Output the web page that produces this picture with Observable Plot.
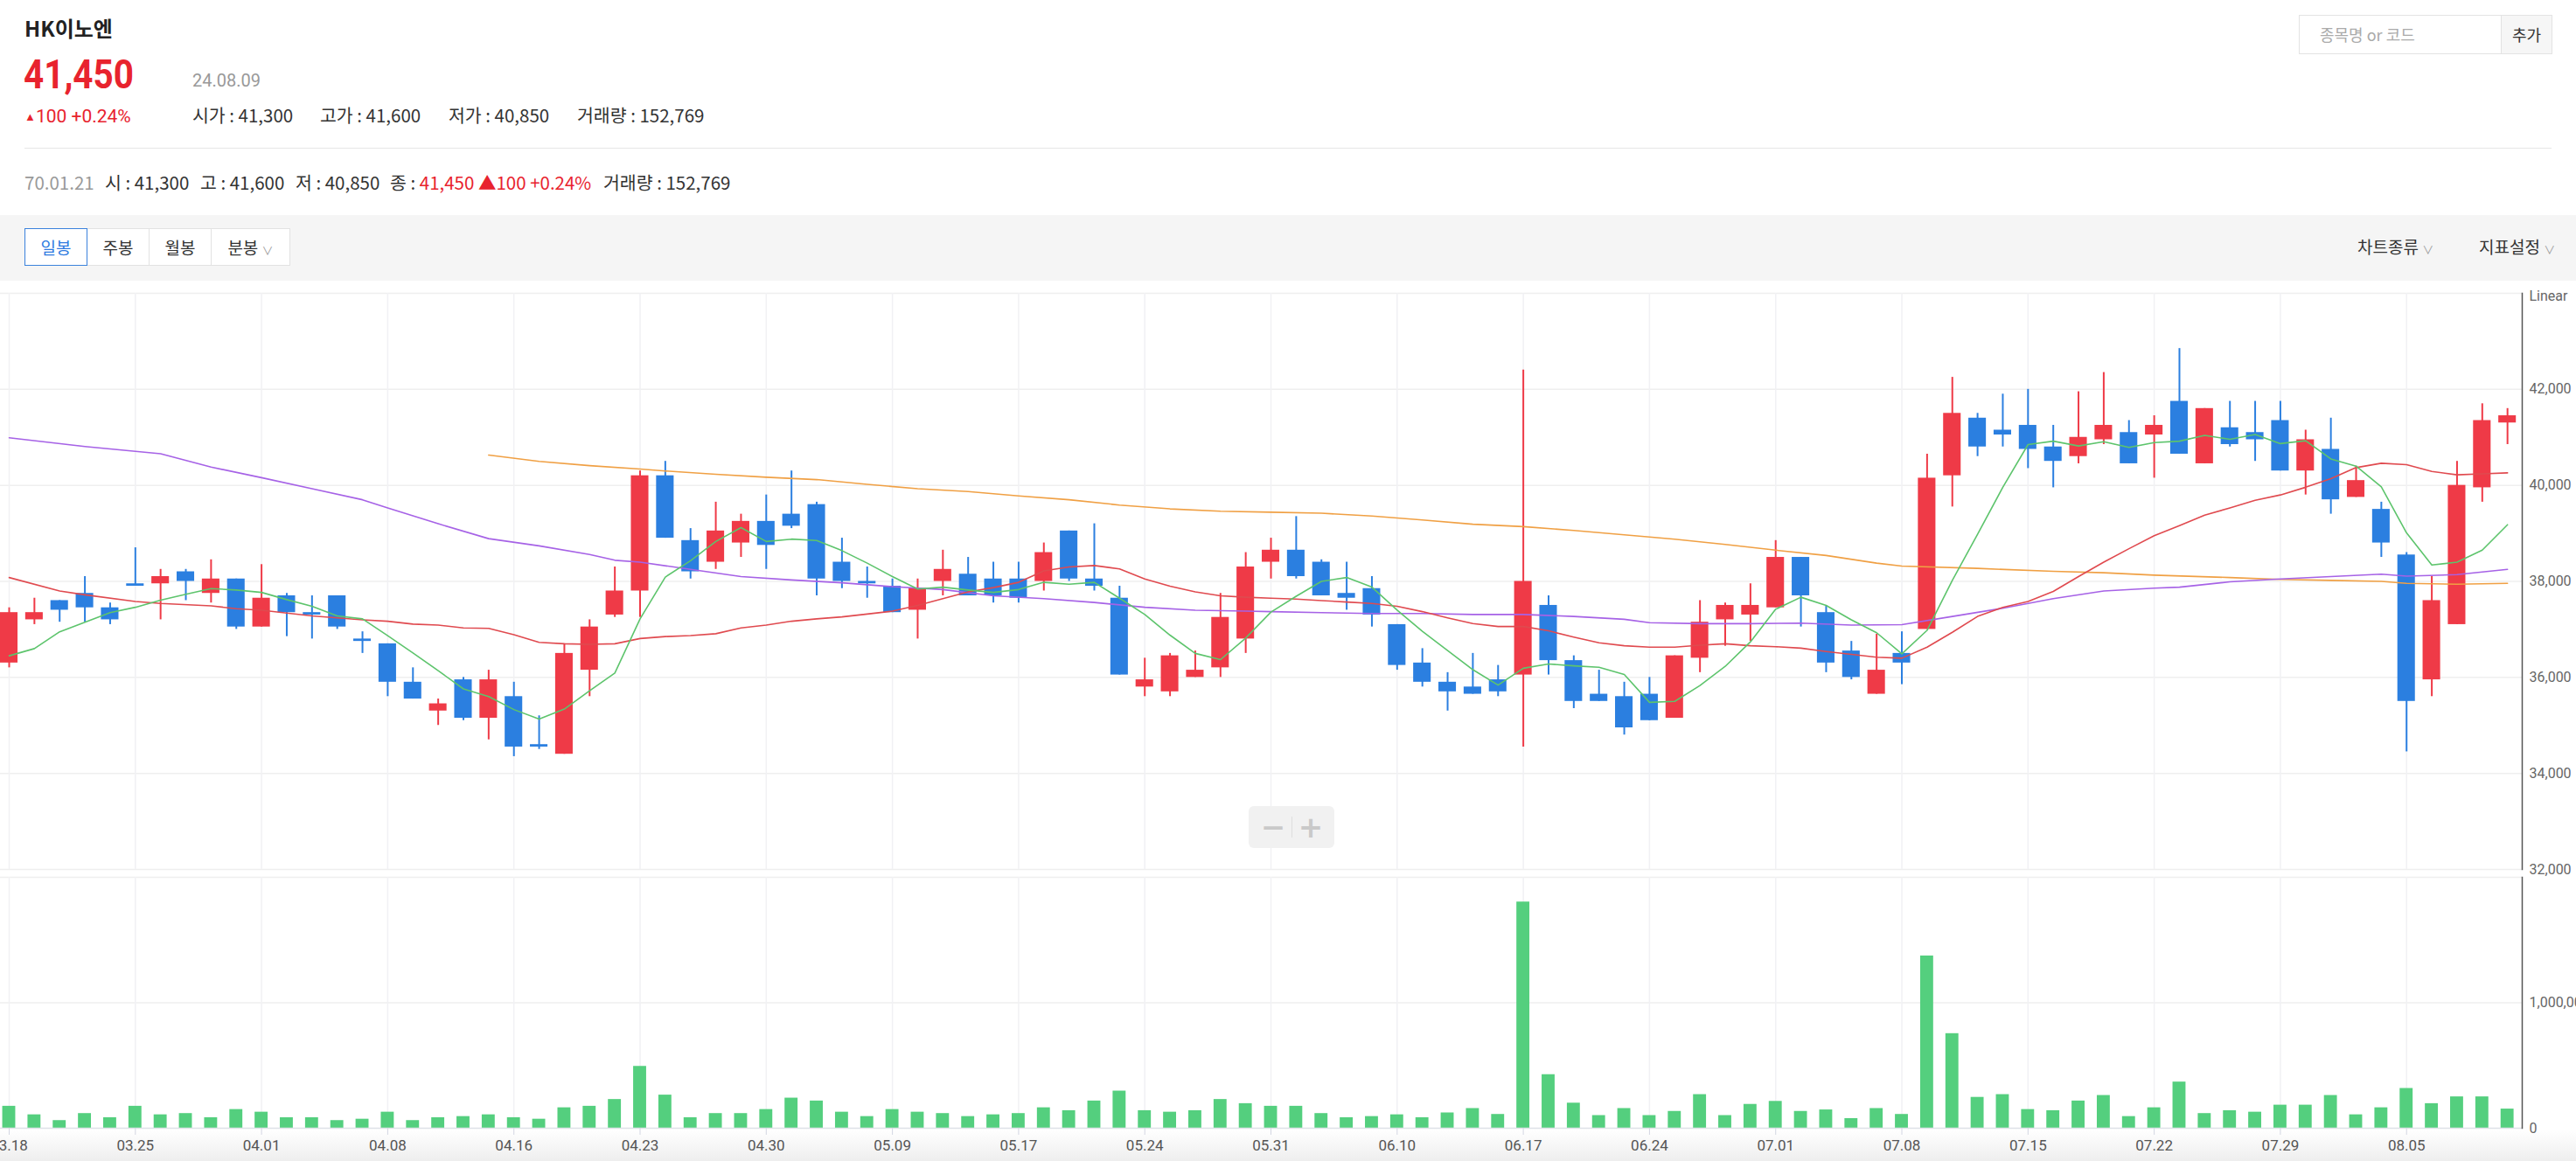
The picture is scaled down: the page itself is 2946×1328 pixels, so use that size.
<!DOCTYPE html>
<html><head><meta charset="utf-8">
<script src="https://cdn.jsdelivr.net/npm/d3@7"></script>
<script src="https://cdn.jsdelivr.net/npm/@observablehq/plot@0.6"></script>
<style>
html,body{margin:0;padding:0}
body{width:2946px;height:1328px;overflow:hidden;background:#fff;position:relative;font-family:"Noto Sans CJK KR","Noto Sans",sans-serif;color:#333}
.a{position:absolute;white-space:nowrap}
.red{color:#e8232e}
.gray{color:#999}
.t{font-size:20.5px;line-height:26px}
.btn{position:absolute;top:261px;height:41px;line-height:41px;text-align:center;background:#fff;border:1px solid #e2e2e2;font-size:19px;color:#333;box-sizing:content-box}
</style></head><body>

<div class="a" style="left:28px;top:17px;font-size:24px;line-height:30px;font-weight:700;color:#222">HK이노엔</div>
<div class="a red" style="left:27px;top:60px;font-size:47px;line-height:50px;font-weight:700;font-family:Roboto,sans-serif;transform:scaleX(0.86);transform-origin:0 0">41,450</div>
<div class="a gray" style="left:220px;top:79px;font-size:20px;line-height:26px;font-family:Roboto">24.08.09</div>
<div class="a red" style="left:28px;top:120px;font-size:21px;line-height:26px;font-family:Roboto"><span style="font-size:13px;vertical-align:2px">▲</span>100 +0.24%</div>
<div class="a t" style="left:220px;top:118px">시가 : 41,300</div>
<div class="a t" style="left:366px;top:118px">고가 : 41,600</div>
<div class="a t" style="left:513px;top:118px">저가 : 40,850</div>
<div class="a t" style="left:660px;top:118px">거래량 : 152,769</div>
<div class="a" style="left:28px;top:169px;width:2890px;height:1px;background:#e6e6e6"></div>

<div class="a t gray" style="left:28px;top:195px">70.01.21</div>
<div class="a t" style="left:120px;top:195px">시 : 41,300</div>
<div class="a t" style="left:229px;top:195px">고 : 41,600</div>
<div class="a t" style="left:338px;top:195px">저 : 40,850</div>
<div class="a t" style="left:446px;top:195px">종 : <span class="red">41,450 ▲100 +0.24%</span></div>
<div class="a t" style="left:690px;top:195px">거래량 : 152,769</div>

<div class="a" style="left:0;top:246px;width:2946px;height:75px;background:#f5f5f5"></div>
<div class="btn" style="left:28px;width:70px;border-color:#3b82dc;color:#2f7be0;z-index:2">일봉</div>
<div class="btn" style="left:99px;width:70px">주봉</div>
<div class="btn" style="left:170px;width:70px">월봉</div>
<div class="btn" style="left:241px;width:89px">분봉 <span style="font-size:13px;color:#999">∨</span></div>
<div class="a" style="left:2696px;top:269px;font-size:19px;line-height:26px">차트종류 <span style="font-size:13px;color:#999">∨</span></div>
<div class="a" style="left:2835px;top:269px;font-size:19px;line-height:26px">지표설정 <span style="font-size:13px;color:#999">∨</span></div>

<div class="a" style="left:2629px;top:17px;width:231px;height:43px;border:1px solid #e3e3e3;background:#fff"></div>
<div class="a" style="left:2653px;top:26px;font-size:18px;line-height:26px;color:#aaa">종목명 or 코드</div>
<div class="a" style="left:2860px;top:17px;width:57px;height:43px;border:1px solid #e3e3e3;background:#f6f6f6;font-size:18px;line-height:43px;text-align:center;color:#333">추가</div>

<div class="a" style="left:0;top:1292px;width:2946px;height:36px;background:linear-gradient(#ffffff,#eeeeee)"></div>

<div id="price" class="a" style="left:0;top:326px"></div>
<div id="vol" class="a" style="left:0;top:1000px"></div>

<div class="a" style="left:1428px;top:922px;width:98px;height:48px;background:#f1f1f1;border-radius:6px"></div>
<div class="a" style="left:1436px;top:922px;width:40px;height:48px;line-height:48px;text-align:center;font-size:34px;font-weight:700;color:#c9c9c9;font-family:'DejaVu Sans'">−</div>
<div class="a" style="left:1477px;top:934px;width:1px;height:24px;background:#dedede"></div>
<div class="a" style="left:1479px;top:922px;width:40px;height:48px;line-height:48px;text-align:center;font-size:34px;font-weight:700;color:#c9c9c9;font-family:'DejaVu Sans'">+</div>

<script>
const dates = ["03.18","03.19","03.20","03.21","03.22","03.25","03.26","03.27","03.28","03.29",
"04.01","04.02","04.03","04.04","04.05","04.08","04.09","04.11","04.12","04.15",
"04.16","04.17","04.18","04.19","04.22","04.23","04.24","04.25","04.26","04.29",
"04.30","05.02","05.03","05.07","05.08","05.09","05.10","05.13","05.14","05.16",
"05.17","05.20","05.21","05.22","05.23","05.24","05.27","05.28","05.29","05.30",
"05.31","06.03","06.04","06.05","06.07","06.10","06.11","06.12","06.13","06.14",
"06.17","06.18","06.19","06.20","06.21","06.24","06.25","06.26","06.27","06.28",
"07.01","07.02","07.03","07.04","07.05","07.08","07.09","07.10","07.11","07.12",
"07.15","07.16","07.17","07.18","07.19","07.22","07.23","07.24","07.25","07.26",
"07.29","07.30","07.31","08.01","08.02","08.05","08.06","08.07","08.08","08.09"];

const open = [36300,37200,37600,37750,37450,37950,37950,38200,37750,38050,
37050,37700,37350,37700,36800,36700,35900,35300,35950,35150,
35600,34600,34400,36150,37300,37800,40200,38850,38400,38800,
39250,39400,39600,38400,38000,37900,37400,38000,38150,38050,
38050,38000,39050,38050,37650,35800,35700,36000,36200,36800,
38400,38650,38400,37750,37850,37100,36300,35900,35800,35950,
36050,37500,36350,35650,35600,35650,35150,36400,37200,37300,
37450,38500,37350,36550,35650,36500,37000,40200,41400,41150,
41250,40800,40600,40950,41100,41050,41750,40450,41200,41100,
41350,40300,40750,39750,39500,38550,35950,37100,39950,41300];

const high = [37450,37650,37600,38100,37550,38700,38250,38250,38450,38050,
38350,37750,37700,37700,36950,36700,36200,35550,36000,36150,
35900,35200,36700,37200,38300,40300,40500,39100,39650,39400,
39800,40300,39650,38900,38300,38050,38050,38650,38500,38400,
38400,38800,39050,39200,37900,36400,36500,36550,37750,38600,
38900,39350,38450,38400,38100,37100,36600,36100,36500,36250,
42400,37700,36450,36150,35900,36000,36450,37600,37550,37950,
38850,38500,37500,36750,36900,36950,40650,42250,41500,41900,
42000,41250,41950,42350,41350,41450,42850,41600,41750,41750,
41750,41150,41400,40400,39650,38600,38100,40500,41700,41600];

const low = [36200,37100,37150,37150,37100,37900,37200,37600,37550,37000,
37050,36850,36800,37000,36500,35600,35550,35000,35100,34700,
34350,34500,34400,35600,37250,37250,38900,38050,38250,38500,
38250,39100,37700,37850,37650,37350,36800,37700,37700,37550,
37550,37800,38000,37800,36050,35600,35600,36000,36000,36500,
38050,38050,37700,37400,37050,36150,35800,35300,35650,35600,
34550,36050,35350,35500,34800,35100,35150,36100,36650,36750,
37450,37050,36100,35950,35650,35850,37000,39550,40600,40800,
40350,39950,40450,40850,40450,40150,40650,40450,40800,40500,
40300,39800,39400,39750,38500,34450,35600,37100,39650,40850];

const close = [37350,37350,37400,37450,37200,37900,38100,38000,38050,37050,
37650,37350,37300,37050,36750,35900,35550,35450,35150,35950,
34550,34550,36500,37050,37800,40200,38900,38200,39050,39250,
38750,39150,38050,38000,37950,37350,37850,38250,37700,37700,
37650,38600,38050,37900,36050,35950,36450,36150,37250,38300,
38650,38100,37700,37650,37300,36250,35900,35700,35650,35700,
38000,36350,35500,35500,34950,35100,36450,37150,37500,37500,
38500,37700,36300,36000,36150,36300,40150,41500,40800,41050,
40750,40500,41000,41250,40450,41250,40650,41600,40850,40950,
40300,40950,39700,40100,38800,35500,37600,40000,41350,41450];

const volume = [175000,107000,61000,117000,84000,175000,107000,117000,84000,149000,
128000,84000,84000,61000,72000,128000,61000,84000,93000,107000,
84000,72000,163000,175000,229000,493000,264000,84000,117000,117000,
149000,240000,217000,128000,93000,149000,128000,117000,93000,107000,
117000,163000,140000,217000,296000,140000,128000,140000,229000,196000,
175000,175000,117000,84000,93000,107000,84000,122000,157000,110000,
1803000,427000,200000,101000,157000,101000,134000,268000,101000,190000,
214000,134000,146000,77000,157000,110000,1373000,754000,246000,268000,
149000,140000,217000,261000,93000,163000,368000,117000,140000,128000,
184000,184000,261000,107000,163000,317000,196000,250000,250000,152769];

// 5-day moving average (green), one value per candle
const ma5 = [36450,36600,36950,37150,37350,37460,37610,37730,37850,37820,
37770,37620,37480,37280,37220,36870,36510,36140,35760,35600,
35330,35130,35340,35720,36090,37220,38090,38430,38830,39120,
38830,38880,38850,38640,38380,38100,37840,37880,37820,37770,
37830,37980,37940,37980,37650,37310,36880,36500,36370,36820,
37360,37690,38000,38080,37880,37400,36960,36560,36160,35840,
36190,36280,36240,36210,36060,35480,35500,35830,36230,36740,
37420,37670,37500,37200,36930,36490,36980,38020,38980,39960,
40850,40920,40820,40910,40790,40890,40920,41040,40960,41060,
40870,40930,40550,40400,39970,39010,38340,38400,38650,39180];

// 20-day moving average (red), read at these candles
const ma20Dates = ["03.18","03.20","03.21","03.25","03.26","03.28","03.29","04.01","04.03","04.05",
"04.08","04.09","04.11","04.12","04.15","04.16","04.17","04.18","04.19","04.22",
"04.23","04.24","04.25","04.26","04.29","04.30","05.02","05.03","05.07","05.08",
"05.09","05.10","05.13","05.14","05.16","05.17","05.20","05.21","05.22","05.23",
"05.24","05.27","05.28","05.29","05.30","05.31","06.03","06.04","06.05","06.07",
"06.10","06.11","06.12","06.13","06.14","06.17","06.18","06.19","06.20","06.21",
"06.24","06.25","06.26","06.27","06.28","07.01","07.02","07.03","07.04","07.05",
"07.08","07.09","07.10","07.11","07.12","07.15","07.16","07.17","07.18","07.19",
"07.22","07.23","07.24","07.25","07.26","07.29","07.30","07.31","08.01","08.02",
"08.05","08.06","08.07","08.08","08.09"];
const ma20 = [38080,37800,37720,37580,37540,37490,37430,37400,37280,37200,
37170,37110,37090,37030,37020,36890,36730,36700,36690,36700,
36810,36850,36870,36910,37030,37090,37170,37220,37260,37320,
37380,37500,37640,37780,37870,37980,38220,38300,38330,38260,
38050,37900,37780,37700,37670,37650,37630,37600,37570,37540,
37480,37370,37240,37120,37060,37060,36970,36840,36720,36660,
36630,36630,36670,36700,36660,36640,36610,36540,36480,36420,
36400,36630,36940,37270,37460,37580,37790,38100,38400,38680,
38950,39160,39380,39530,39690,39800,39960,40140,40370,40460,
40430,40290,40220,40240,40260];

// 60-day moving average (purple)
const ma60Dates = ["03.18","03.21","03.26","03.28","04.01","04.03","04.05","04.08","04.11","04.15",
"04.17","04.19","04.22","04.23","04.25","04.29","05.02","05.07","05.09","05.13",
"05.16","05.20","05.22","05.24","05.28","05.30","05.31","06.04","06.07","06.11",
"06.13","06.17","06.19","06.21","06.24","06.26","06.28","07.02","07.04","07.08",
"07.10","07.12","07.16","07.18","07.22","07.23","07.25","07.29","07.31","08.02",
"08.05","08.07","08.09"];
const ma60 = [40990,40810,40660,40380,40160,39930,39700,39530,39200,38890,
38740,38560,38440,38400,38250,38100,38030,37970,37890,37830,
37700,37640,37560,37460,37400,37380,37370,37350,37330,37330,
37310,37310,37270,37210,37140,37120,37120,37130,37090,37100,
37270,37440,37640,37800,37860,37880,37990,38050,38100,38150,
38110,38140,38250];

// 120-day moving average (orange)
const ma120Dates = ["04.15","04.17","04.19","04.23","04.24","04.26","04.30","05.03","05.08","05.10",
"05.14","05.17","05.21","05.23","05.27","05.29","05.31","06.04","06.07","06.11",
"06.13","06.17","06.19","06.21","06.25","06.27","07.01","07.03","07.05","07.08",
"07.11","07.16","07.18","07.22","07.25","07.29","07.31","08.02","08.05","08.07","08.09"];
const ma120 = [40630,40500,40410,40340,40300,40230,40170,40120,40020,39930,
39870,39780,39700,39590,39510,39460,39440,39420,39360,39280,
39190,39140,39060,38970,38880,38770,38650,38540,38380,38320,
38270,38210,38180,38130,38080,38040,38020,38000,37960,37940,37960];

const axisDates = ["03.18","03.25","04.01","04.08","04.16","04.23","04.30","05.09","05.17","05.24",
"05.31","06.10","06.17","06.24","07.01","07.08","07.15","07.22","07.29","08.05"];
const priceGrid = [32000,34000,36000,38000,40000,42000,44000];
const priceTicks = [32000,34000,36000,38000,40000,42000];
const volTicks = [0,1000000];

const RED = "#ef3a47", BLUE = "#2b7fe0", VOLG = "#54cf7e";
const candles = dates.map((d,i)=>({date:d, open:open[i], high:high[i], low:low[i], close:close[i], volume:volume[i]}));
const upC = candles.filter(d=>d.close>=d.open);
const dnC = candles.filter(d=>d.close<d.open);
const toPts = (ds, vs) => ds.map((d,i)=>({date:d, v:vs[i]}));

const xOpt = {type:"band", domain:dates, range:[-4.43, 2881.6], padding:0, axis:null};
const style = {background:"transparent", overflow:"visible", fontFamily:"Roboto, 'Noto Sans CJK KR', sans-serif", fontSize:"16px"};

const price = Plot.plot({
  width:2946, height:670, marginTop:9, marginBottom:2, marginLeft:0, marginRight:62,
  x: xOpt,
  y: {domain:[32000,44000], axis:null},
  style,
  marks: [
    Plot.ruleY(priceGrid, {stroke:"#efefef", strokeWidth:1.5}),
    Plot.ruleX(axisDates, {stroke:"#f1f1f4", strokeWidth:1.5}),
    Plot.ruleX(upC, {x:"date", y1:"low", y2:"high", stroke:RED, strokeWidth:2}),
    Plot.ruleX(dnC, {x:"date", y1:"low", y2:"high", stroke:BLUE, strokeWidth:2}),
    Plot.barY(upC, {x:"date", y1:"open", y2:"close", fill:RED, insetLeft:4.4, insetRight:4.4}),
    Plot.barY(dnC, {x:"date", y1:"open", y2:"close", fill:BLUE, insetLeft:4.4, insetRight:4.4}),
    Plot.line(toPts(ma120Dates, ma120), {x:"date", y:"v", stroke:"#f0a044", strokeWidth:1.6}),
    Plot.line(toPts(ma60Dates, ma60), {x:"date", y:"v", stroke:"#a662e6", strokeWidth:1.6}),
    Plot.line(toPts(ma20Dates, ma20), {x:"date", y:"v", stroke:"#e04a4f", strokeWidth:1.6}),
    Plot.line(toPts(dates, ma5), {x:"date", y:"v", stroke:"#5dc46c", strokeWidth:1.6}),
    Plot.axisY(priceTicks, {anchor:"right", label:null, tickSize:0, tickPadding:8, tickFormat:d3.format(","), fill:"#666", fontSize:16}),
    Plot.text(["Linear"], {frameAnchor:"top-right", dx:8, dy:3, textAnchor:"start", lineAnchor:"middle", fill:"#666", fontSize:16}),
    Plot.frame({anchor:"right", stroke:"#555", strokeWidth:1.5})
  ]
});
document.getElementById("price").appendChild(price);

const vol = Plot.plot({
  width:2946, height:328, marginTop:3, marginBottom:38, marginLeft:0, marginRight:62,
  x: xOpt,
  y: {domain:[0,2000000], axis:null},
  style,
  marks: [
    Plot.ruleY([1000000, 2000000], {stroke:"#efefef", strokeWidth:1.5}),
    Plot.ruleX(axisDates, {stroke:"#f1f1f4", strokeWidth:1.5}),
    Plot.barY(candles, {x:"date", y:"volume", fill:VOLG, insetLeft:7, insetRight:7}),
    Plot.ruleY([0], {stroke:"#dde1e8", strokeWidth:1.5}),
    Plot.axisX(axisDates, {label:null, tickSize:8, tickPadding:5, stroke:"#d3d6e2", fill:"#555", fontSize:17}),
    Plot.axisY(volTicks, {anchor:"right", label:null, tickSize:0, tickPadding:8, tickFormat:d3.format(","), fill:"#666", fontSize:16}),
    Plot.frame({anchor:"right", stroke:"#555", strokeWidth:1.5})
  ]
});
document.getElementById("vol").appendChild(vol);
</script>
</body></html>
